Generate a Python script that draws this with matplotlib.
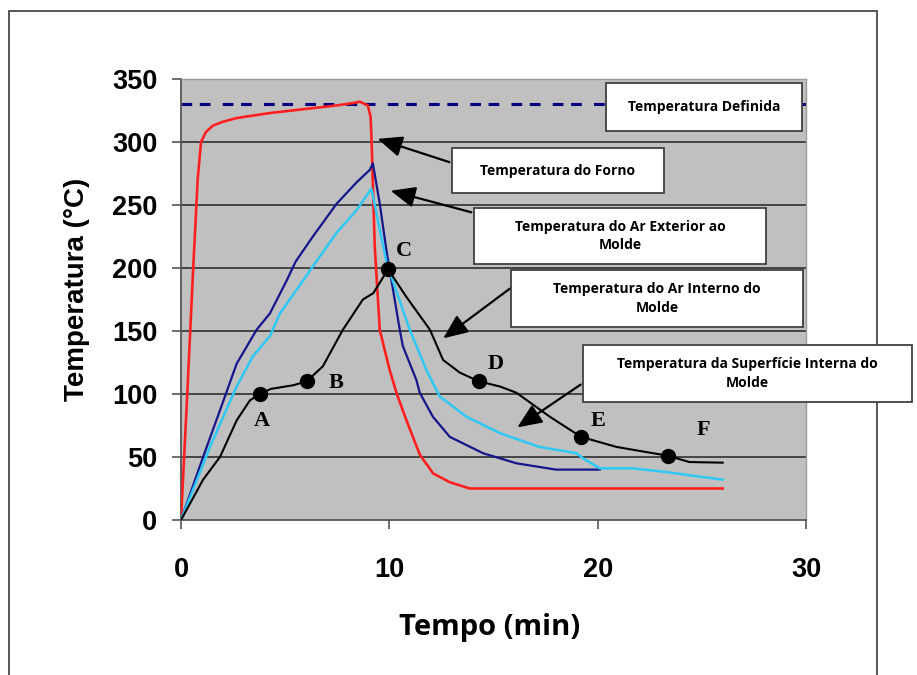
import matplotlib
matplotlib.use("Agg")
import matplotlib.pyplot as plt
from matplotlib.patches import Rectangle, FancyArrowPatch

# ---- data ----
forno_t = [0, 0.3, 0.58, 0.8, 0.96, 1.2, 1.53, 2.0, 2.67, 4.27, 5.86, 7.47, 8.3, 8.58, 8.97, 9.1, 9.15,
           9.3, 9.54, 10.0, 10.34, 10.8, 11.46, 12.1, 12.9, 13.86, 26.0]
forno_T = [0, 100, 198, 270, 300, 308, 313, 316, 319, 323, 326, 329, 331, 332, 329, 320, 300,
           217, 151, 120, 101, 80, 52, 37, 30, 25, 25]

ext_t = [0, 1.06, 2.0, 2.67, 3.63, 4.27, 5.07, 5.5, 6.33, 7.47, 8.43, 9.07, 9.21, 9.54, 9.87, 10.5,
         10.65, 11.3, 11.46, 12.09, 12.9, 14.5, 16.1, 18.0, 20.1]
ext_T = [0, 50, 93, 124, 151, 164, 190, 205, 225, 251, 268, 278, 283, 251, 213, 151,
         138, 111, 101, 82, 66, 53, 45, 40, 40]

sup_t = [0, 1.39, 2.67, 3.45, 4.27, 4.75, 5.86, 6.19, 7.47, 8.43, 9.14, 9.87, 10.98, 11.78, 12.42,
         13.7, 15.3, 17.2, 18.98, 19.3, 20.1, 21.7, 23.3, 26.0]
sup_T = [0, 58, 106, 130, 146, 164, 190, 198, 228, 246, 263, 204, 151, 119, 98,
         82, 69, 58, 53, 49, 41, 41, 38, 32]

int_t = [0, 1.06, 1.87, 2.67, 3.31, 3.79, 4.3, 5.4, 6.03, 6.81, 7.77, 8.73, 9.23, 9.94, 10.82, 11.95,
         12.58, 13.38, 14.3, 15.3, 16.1, 17.7, 19.2, 20.9, 23.37, 24.4, 26.0]
int_T = [0, 32, 50, 79, 95, 100, 104, 107, 110, 122, 151, 175, 180, 199, 177, 151,
         127, 117, 110, 106, 101, 82, 66, 58, 51, 46, 45.5]

set_temp = 330

pt_labels = ["A", "B", "C", "D", "E", "F"]
pt_t = [3.79, 6.03, 9.94, 14.3, 19.2, 23.37]
pt_T = [100, 110, 199, 110, 66, 51]

box_labels = ["Temperatura Definida", "Temperatura do Forno",
              "Temperatura do Ar Exterior ao\nMolde", "Temperatura do Ar Interno do\nMolde",
              "Temperatura da Superfície Interna do\nMolde"]

# ---- layout (figure pixels, y from top) ----
W, H = 917, 675
boxes_px = [(606, 83, 802, 131), (452, 148, 664, 193), (474, 208, 766, 264),
            (511, 270, 803, 327), (583, 345, 912, 402)]
arrows_px = [None, ((452, 163), (375, 138)), ((474, 213), (388, 190)),
             ((512, 287), (441, 340)), ((583, 383), (515, 429))]
letter_off = [(2, -27), (29, -2), (16, 18), (17, 17), (17, 16), (36, 26)]


def fig_xy(x, y):
    return x / W, 1 - y / H


fig = plt.figure(figsize=(W / 100, H / 100), dpi=100)
ax = fig.add_axes([181 / W, 1 - 520 / H, 625 / W, 441 / H])
ax.set_facecolor("#c0c0c0")

for y in range(50, 351, 50):
    ax.axhline(y, color="#3a3a3a", lw=1.3, zorder=1)

ax.axhline(set_temp, color="#000080", lw=2.2, dashes=(3.5, 2.5, 3.5, 4), zorder=2)
ax.plot(forno_t, forno_T, color="#ff1f1f", lw=1.9, zorder=3)
ax.plot(ext_t, ext_T, color="#15158c", lw=1.6, zorder=3)
ax.plot(sup_t, sup_T, color="#2ec8f5", lw=1.8, zorder=3)
ax.plot(int_t, int_T, color="black", lw=1.5, zorder=4)
ax.plot(pt_t, pt_T, "o", color="black", ms=10, zorder=5)

for lab, t, T, (dx, dy) in zip(pt_labels, pt_t, pt_T, letter_off):
    ax.annotate(lab, (t, T), xytext=(dx, dy), textcoords="offset pixels",
                ha="center", va="center", fontsize=16, fontweight="bold",
                family="Liberation Serif", zorder=6)

ax.set_xlim(0, 30)
ax.set_ylim(0, 350)
ax.set_xticks([0, 10, 20, 30])
ax.set_yticks(range(0, 351, 50))
ax.tick_params(direction="out", length=6.5, width=1.2, color="#555555")
ax.tick_params(axis="y", pad=10.5)
ax.tick_params(axis="x", pad=20)
for lab in ax.get_xticklabels() + ax.get_yticklabels():
    lab.set_family("Liberation Sans")
    lab.set_fontweight("bold")
    lab.set_fontsize(19.5)

for s in ["left", "bottom"]:
    ax.spines[s].set_color("#555555")
    ax.spines[s].set_linewidth(1.3)
for s in ["top", "right"]:
    ax.spines[s].set_color("#9a9a9a")
    ax.spines[s].set_linewidth(1.0)

fig.text(*fig_xy(77, 289), "Temperatura (°C)", rotation=90, ha="center", va="center",
         fontsize=20, fontweight="bold", family="Liberation Sans")
fig.text(*fig_xy(490, 627), "Tempo (min)", ha="center", va="center",
         fontsize=21, fontweight="bold", family="Open Sans")

# outer frame
x0, y0 = fig_xy(9, 11)
x1, _ = fig_xy(877, 0)
fig.add_artist(Rectangle((x0, -0.05), x1 - x0, y0 + 0.05, transform=fig.transFigure,
                         fill=False, edgecolor="#555555", lw=1.4, zorder=0))

# callout boxes and arrows
for lab, (bx0, by0, bx1, by1), arr in zip(box_labels, boxes_px, arrows_px):
    fx0, fy1 = fig_xy(bx0, by0)
    fx1, fy0 = fig_xy(bx1, by1)
    fig.add_artist(Rectangle((fx0, fy0), fx1 - fx0, fy1 - fy0, transform=fig.transFigure,
                             facecolor="white", edgecolor="#404040", lw=1.3, zorder=10))
    fig.text((fx0 + fx1) / 2, (fy0 + fy1) / 2, lab, ha="center", va="center",
             fontsize=10, fontweight="bold", family="Open Sans", linespacing=1.45, zorder=11)
    if arr is not None:
        (sx, sy), (ex, ey) = arr
        fig.add_artist(FancyArrowPatch(
            fig_xy(sx, sy), fig_xy(ex, ey), transform=fig.transFigure,
            arrowstyle="-|>,head_length=0.75,head_width=0.32", mutation_scale=20,
            lw=1.6, color="black", zorder=9))

fig.savefig("out.png", dpi=100)
